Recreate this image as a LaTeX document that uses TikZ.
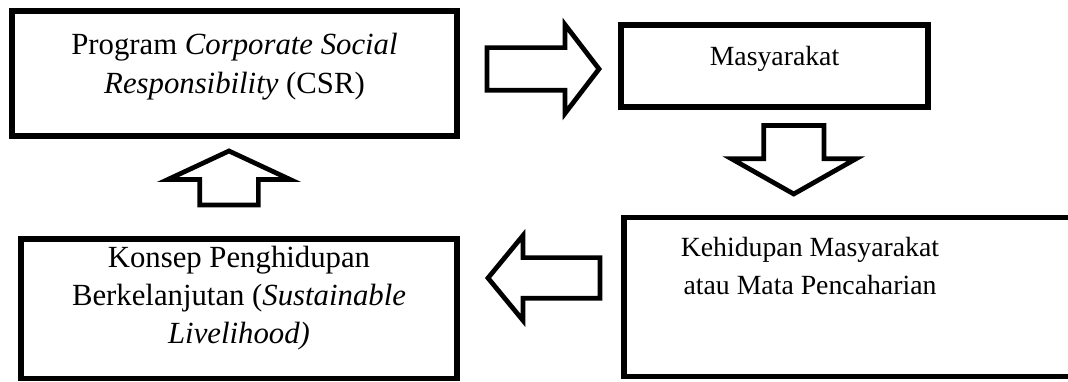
\documentclass[tikz,border=0pt]{standalone}
\usepackage{fontspec}
\setmainfont{Liberation Serif}
\usetikzlibrary{shapes.arrows, positioning}

\begin{document}
\begin{tikzpicture}[
    box/.style={rectangle, draw=black, line width=3.1pt, fill=white, inner sep=0pt},
    boxtext/.style={inner sep=0pt, align=center},
    bigtext/.style={boxtext, font=\fontsize{17.5}{21.7}\selectfont},
    smalltext/.style={boxtext, font=\fontsize{15.8}{21.3}\selectfont},
    blockarrow/.style={single arrow, draw=black, line width=2.7pt, fill=white, inner sep=0pt, minimum width=0pt, outer sep=0pt, anchor=tip}
]
\useasboundingbox (0,0) rectangle (21.36,7.62);

% Boxes
\node (csr) [box, minimum width=8.9cm, minimum height=2.5cm] at (4.69,6.15) {};
\node (masyarakat) [box, minimum width=6.14cm, minimum height=1.64cm] at (15.49,6.30) {};
\node (kehidupan) [box, minimum width=9.12cm, minimum height=3.18cm] at (17.04,1.68) {};
\node (konsep) [box, minimum width=8.72cm, minimum height=2.79cm] at (4.78,1.445) {};

% Texts
\node (csr_text) [bigtext, below=0.5cm of csr.north] {Program \textit{Corporate Social}\\\textit{Responsibility} (CSR)};
\node (masyarakat_text) [smalltext, below=0.47cm of masyarakat.north] {Masyarakat};
\node (kehidupan_text) [smalltext, anchor=north] at (16.2,2.88) {Kehidupan Masyarakat\\atau Mata Pencaharian};
\node (konsep_text) [bigtext, below=0.19cm of konsep.north] {Konsep Penghidupan\\Berkelanjutan (\textit{Sustainable}\\\textit{Livelihood)}};

% Block arrows
\node (arrow_right) [blockarrow, minimum height=2.24cm, inner ysep=0.38cm, single arrow head extend=0.46cm, single arrow tip angle=105] at (11.98,6.24) {};
\node (arrow_down) [blockarrow, rotate=-90, minimum height=1.37cm, inner ysep=0.555cm, single arrow head extend=0.645cm, single arrow tip angle=121] at (15.875,3.74) {};
\node (arrow_left) [blockarrow, rotate=180, minimum height=2.24cm, inner ysep=0.36cm, single arrow head extend=0.44cm, single arrow tip angle=101] at (9.76,2.06) {};
\node (arrow_up) [blockarrow, rotate=90, minimum height=1.08cm, inner ysep=0.54cm, single arrow head extend=0.64cm, single arrow tip angle=130] at (4.58,4.6) {};

\end{tikzpicture}
\end{document}
